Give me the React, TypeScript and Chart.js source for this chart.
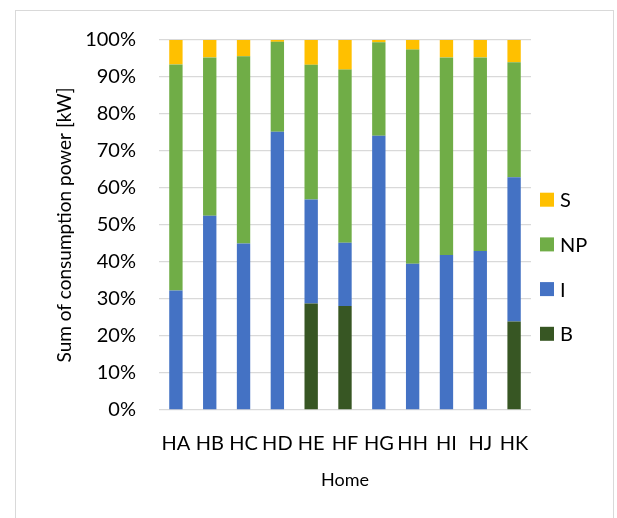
import React, { useEffect, useRef } from "react";
import { Chart, registerables } from "chart.js";

Chart.register(...registerables);

// Homes on the category axis
const homes = ["HA", "HB", "HC", "HD", "HE", "HF", "HG", "HH", "HI", "HJ", "HK"];

// Share of consumption power per load type (percent of each home's total)
const shareB = [0, 0, 0, 0, 28.8, 28.1, 0, 0, 0, 0, 23.9];
const shareI = [32.3, 52.5, 45.0, 75.2, 28.1, 17.1, 74.1, 39.5, 41.9, 43.0, 39.0];
const shareNP = [61.1, 42.8, 50.6, 24.3, 36.4, 46.8, 25.3, 57.9, 53.4, 52.3, 31.1];
const shareS = [6.6, 4.7, 4.4, 0.5, 6.7, 8.0, 0.6, 2.6, 4.7, 4.7, 6.0];

// Value-axis tick marks (percent)
const percentTicks = [0, 10, 20, 30, 40, 50, 60, 70, 80, 90, 100];

const seriesNames = ["B", "I", "NP", "S"];
const seriesColors = ["#375623", "#4472C4", "#70AD47", "#FFC000"];

const FONT = "Lato, 'Open Sans', sans-serif";

// Legend drawn to the right of the plot, top entry = last stacked series
const sideLegend = {
  id: "sideLegend",
  afterDraw(chart: any) {
    const { ctx, chartArea } = chart;
    const datasets = chart.data.datasets;
    const box = 14;
    const gap = 44.7;
    const x = chartArea.right + 9;
    const firstY = chartArea.top + 159.7;
    ctx.save();
    ctx.font = `20px ${FONT}`;
    ctx.textBaseline = "middle";
    ctx.textAlign = "left";
    const order = datasets.map((_: any, i: number) => i).reverse();
    order.forEach((di: number, row: number) => {
      const ds = datasets[di];
      const cy = firstY + row * gap;
      ctx.fillStyle = ds.backgroundColor;
      ctx.fillRect(x, cy - box / 2, box, box);
      ctx.fillStyle = "#000";
      ctx.fillText(ds.label, x + box + 6, cy + 1);
    });
    ctx.restore();
  },
};

export default function App() {
  const canvasRef = useRef<HTMLCanvasElement | null>(null);

  useEffect(() => {
    const canvas = canvasRef.current;
    if (!canvas) return;
    const values = [shareB, shareI, shareNP, shareS];

    const chart = new Chart(canvas, {
      type: "bar",
      data: {
        labels: homes,
        datasets: values.map((data, i) => ({
          label: seriesNames[i],
          data,
          backgroundColor: seriesColors[i],
          borderWidth: 0,
          categoryPercentage: 1,
          barPercentage: 0.395,
        })),
      },
      options: {
        responsive: false,
        animation: false,
        devicePixelRatio: 1,
        layout: { padding: { left: 0, top: 29, right: 82, bottom: 23.4 } },
        plugins: {
          legend: { display: false },
          tooltip: { enabled: false },
        },
        scales: {
          x: {
            stacked: true,
            afterFit(scale: any) {
              // tick padding + tick line + title padding + title line
              scale.height = 22 + 24 + 13 + 21.6 + 4;
            },
            grid: { display: false, drawTicks: false },
            border: { display: false },
            ticks: {
              color: "#000",
              font: { family: FONT, size: 20 },
              padding: 22,
              maxRotation: 0,
              autoSkip: false,
            },
            title: {
              display: true,
              text: "Home",
              color: "#000",
              font: { family: FONT, size: 18 },
              padding: { top: 13, bottom: 4 },
            },
          },
          y: {
            stacked: true,
            min: 0,
            max: 100,
            afterFit(scale: any) {
              scale.width = 143;
              scale.paddingTop = 0;
              scale.paddingBottom = 0;
            },
            afterBuildTicks(scale: any) {
              scale.ticks = percentTicks.map((v) => ({ value: v }));
            },
            grid: { color: "#d9d9d9", lineWidth: 1.3, drawTicks: false },
            border: { display: false },
            ticks: {
              color: "#000",
              font: { family: FONT, size: 20 },
              padding: 23,
              callback: (v: any) => `${v}%`,
            },
            title: {
              display: true,
              text: "Sum of consumption power [kW]",
              color: "#000",
              font: { family: FONT, size: 19 },
              padding: { top: 37, bottom: 4 },
            },
          },
        },
      },
      plugins: [sideLegend],
    });

    return () => chart.destroy();
  }, []);

  return (
    <div
      style={{
        position: "fixed",
        left: 15,
        top: 10,
        width: 597,
        height: 540,
        border: "1px solid #d9d9d9",
        background: "#fff",
      }}
    >
      <canvas
        ref={canvasRef}
        width={597}
        height={507}
        style={{ display: "block", width: 597, height: 507 }}
      />
    </div>
  );
}
